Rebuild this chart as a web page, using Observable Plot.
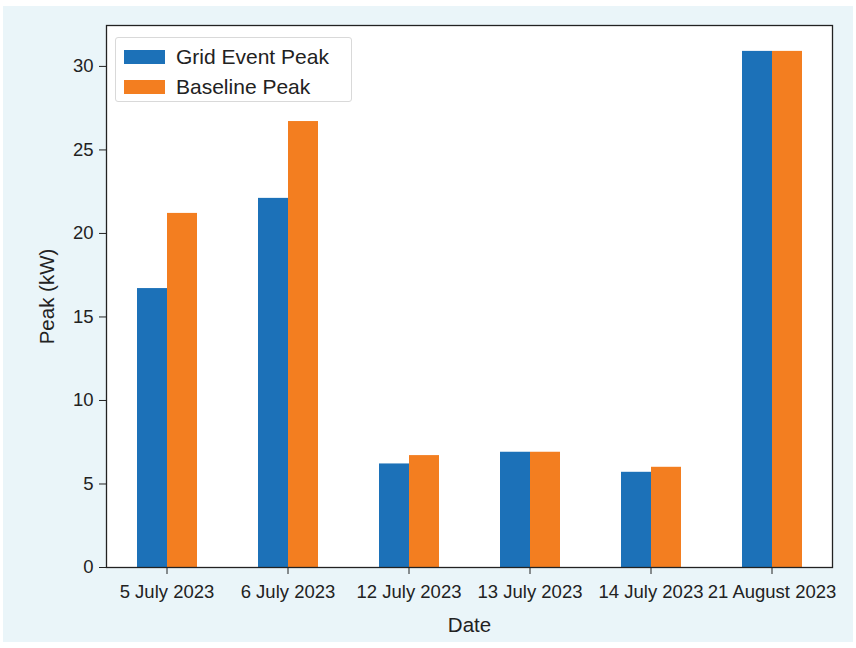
<!DOCTYPE html>
<html><head><meta charset="utf-8">
<script src="https://cdn.jsdelivr.net/npm/d3@7"></script>
<script src="https://cdn.jsdelivr.net/npm/@observablehq/plot@0.6"></script>
<style>
body{margin:0;background:#fff;font-family:"Liberation Sans",Arial,Helvetica,sans-serif;}
#wrap{position:absolute;left:3px;top:6px;width:850px;height:636px;background:#eaf5f9;}
#wrap svg g[aria-label$="axis label"]{font-size:20.5px;}
#legend{position:absolute;left:112px;top:31px;width:237px;height:65px;background:#fff;border:1px solid #d9d9d9;border-radius:3px;box-sizing:border-box;}
.item{position:absolute;left:0;height:30px;width:235px;}
.sw{position:absolute;left:8px;top:8px;width:41px;height:14px;}
.lab{position:absolute;left:60px;top:0;font-size:21px;line-height:30px;color:#222;white-space:nowrap;}
</style></head><body><div id="wrap"><div id="legend"></div></div>
<script>
const dates = ["5 July 2023", "6 July 2023", "12 July 2023", "13 July 2023", "14 July 2023", "21 August 2023"];
const series = ["Grid Event Peak", "Baseline Peak"];
const gridEventPeak = [16.7, 22.1, 6.2, 6.9, 5.7, 30.9];
const baselinePeak = [21.2, 26.7, 6.7, 6.9, 6.0, 30.9];
const colors = ["#1c71b8", "#f37e20"];
const yTicks = [0, 5, 10, 15, 20, 25, 30];

const rows = dates.flatMap((d, i) => [
  {date: d, series: series[0], value: gridEventPeak[i]},
  {date: d, series: series[1], value: baselinePeak[i]}
]);

const chart = Plot.plot({
  width: 850, height: 636,
  marginLeft: 101, marginRight: 20, marginTop: 19, marginBottom: 75,
  style: {background: "transparent", fontFamily: '"Liberation Sans", Arial, Helvetica, sans-serif', fontSize: "18.5px", color: "#222"},
  fx: {domain: dates, padding: 0, axis: "bottom", label: "Date", labelAnchor: "center", tickSize: 7, tickPadding: 10, labelOffset: 64},
  x: {domain: series, paddingInner: 0, paddingOuter: 1, axis: null},
  y: {domain: [0, 32.45], ticks: yTicks, tickSize: 7, tickPadding: 6, label: "Peak (kW)", labelAnchor: "center", labelArrow: "none", labelOffset: 67},
  color: {domain: series, range: colors},
  marks: [
    Plot.frame({fill: "white", facet: "super"}),
    Plot.barY(rows, {fx: "date", x: "series", y: "value", fill: "series"}),
    Plot.frame({stroke: "#222", strokeWidth: 1.3, facet: "super"})
  ]
});
document.getElementById("wrap").prepend(chart);

const legend = document.getElementById("legend");
series.forEach((s, i) => {
  const it = document.createElement("div");
  it.className = "item";
  it.style.top = (4 + i * 30) + "px";
  it.innerHTML = `<span class="sw" style="background:${colors[i]}"></span><span class="lab">${s}</span>`;
  legend.appendChild(it);
});
</script>
</body></html>
